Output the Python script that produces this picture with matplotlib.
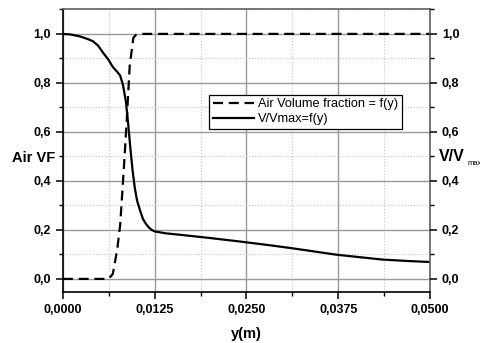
import matplotlib
matplotlib.use("Agg")
import matplotlib.pyplot as plt
from matplotlib.ticker import MultipleLocator, FuncFormatter

plt.rcParams["font.family"] = ["Liberation Sans", "DejaVu Sans"]

# Air volume fraction vs y
vf_y = [0.0, 0.0062, 0.0068, 0.0074, 0.0078, 0.0083, 0.0087, 0.0091, 0.0096, 0.0100, 0.0105, 0.0500]
vf_val = [0.0, 0.0, 0.02, 0.12, 0.22, 0.45, 0.65, 0.87, 0.985, 0.997, 1.0, 1.0]

# V/Vmax vs y
v_y = [0.0, 0.0010, 0.0023, 0.0033, 0.0041, 0.0048, 0.0055, 0.0062, 0.0068, 0.0074, 0.0078,
       0.0082, 0.0086, 0.0089, 0.0092, 0.0095, 0.0098, 0.0101, 0.0105, 0.0109, 0.0113,
       0.0117, 0.0121, 0.0125, 0.0140, 0.0160, 0.0200, 0.0240, 0.0280, 0.0310, 0.0340,
       0.0372, 0.0400, 0.0435, 0.0470, 0.0500]
v_val = [1.0, 0.998, 0.99, 0.98, 0.97, 0.952, 0.922, 0.895, 0.865, 0.845, 0.83,
         0.79, 0.72, 0.63, 0.53, 0.44, 0.37, 0.32, 0.28, 0.245, 0.225,
         0.21, 0.2, 0.194, 0.186, 0.180, 0.167, 0.153, 0.138, 0.126, 0.113,
         0.099, 0.090, 0.079, 0.073, 0.069]


def comma(fmt):
    return FuncFormatter(lambda v, p: fmt.format(v).replace(".", ","))


fig = plt.figure(figsize=(4.8, 3.43), dpi=100)
ax = fig.add_axes([0.131, 0.149, 0.765, 0.825])

ax.plot(vf_y, vf_val, color="black", lw=1.6, dashes=(4.5, 2.6),
        label="Air Volume fraction = f(y)")
ax.plot(v_y, v_val, color="black", lw=1.6, label="V/Vmax=f(y)")

ax.set_xlim(0, 0.05)
ax.set_ylim(-0.053, 1.102)
ax.xaxis.set_major_locator(MultipleLocator(0.0125))
ax.xaxis.set_minor_locator(MultipleLocator(0.00625))
ax.yaxis.set_major_locator(MultipleLocator(0.2))
ax.yaxis.set_minor_locator(MultipleLocator(0.1))
ax.xaxis.set_major_formatter(comma("{:.4f}"))
ax.yaxis.set_major_formatter(comma("{:.1f}"))

ax.grid(which="major", color="#999999", lw=1.0, ls="-")
ax.grid(which="minor", color="#c4c4c4", lw=0.8, ls=":")
ax.set_axisbelow(True)

for s in ax.spines.values():
    s.set_linewidth(1.2)
ax.spines["right"].set_color("#606060")
ax.spines["top"].set_color("#606060")

ax.tick_params(which="major", direction="out", length=5, width=1.1, labelsize=9)
ax.tick_params(which="minor", direction="out", length=3, width=1.0)
for lab in ax.get_xticklabels() + ax.get_yticklabels():
    lab.set_fontweight("bold")

ax2 = ax.twinx()
ax2.set_ylim(ax.get_ylim())
ax2.yaxis.set_major_locator(MultipleLocator(0.2))
ax2.yaxis.set_minor_locator(MultipleLocator(0.1))
ax2.yaxis.set_major_formatter(comma("{:.1f}"))
ax2.tick_params(which="major", direction="out", length=5, width=1.1, labelsize=9)
ax2.tick_params(which="minor", direction="out", length=3, width=1.0)
for lab in ax2.get_yticklabels():
    lab.set_fontweight("bold")
for s in ax2.spines.values():
    s.set_visible(False)

ax.set_xlabel("y(m)", fontsize=10.5, fontweight="bold", labelpad=8)
fig.text(0.025, 0.54, "Air VF", fontsize=10.5, fontweight="bold", va="center", ha="left")
fig.text(0.915, 0.545, "V/V", fontsize=11.5, fontweight="bold", va="center", ha="left")
fig.text(0.973, 0.522, "max", fontsize=5.5, va="center", ha="left")

leg = ax.legend(loc="upper left", bbox_to_anchor=(0.398, 0.697), fontsize=9.2,
                frameon=True, fancybox=False, edgecolor="black", framealpha=1,
                borderpad=0.3, labelspacing=0.2, handlelength=3.2, handletextpad=0.3,
                borderaxespad=0)
leg.get_frame().set_linewidth(0.9)

fig.savefig("out.png", dpi=100)
